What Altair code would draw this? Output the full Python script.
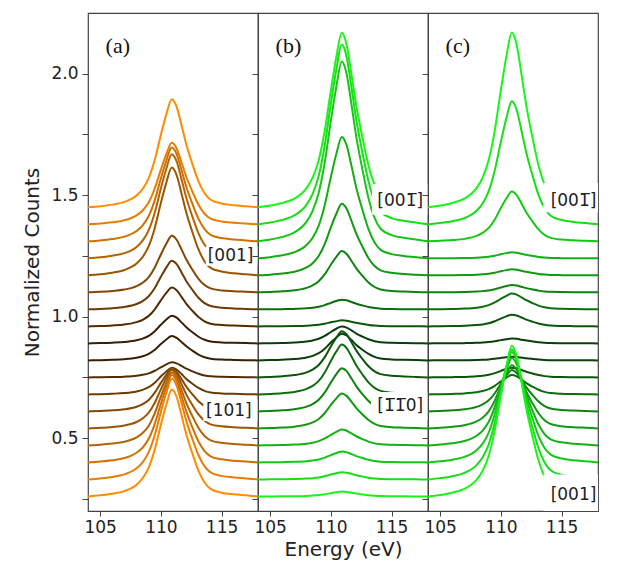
import altair as alt
import pandas as pd

# ---- data ----
energies = [104.0, 105.0, 106.0, 107.0, 108.0, 108.5, 109.0, 109.5, 110.0, 110.45,
            110.9, 111.3, 111.7, 112.1, 112.6, 113.1, 113.6, 114.1, 115.0, 116.0, 117.0, 118.0]
lineshape = [0.0, 0.01, 0.025, 0.05, 0.11, 0.17, 0.27, 0.44, 0.67, 0.86,
             1.0, 0.93, 0.76, 0.58, 0.40, 0.24, 0.13, 0.07, 0.035, 0.02, 0.01, 0.0]
offsets = [1.45, 1.38, 1.31, 1.24, 1.17, 1.10, 1.03, 0.96, 0.89,
           0.82, 0.75, 0.68, 0.61, 0.54, 0.47, 0.40, 0.33, 0.26]
amps_a = [0.445, 0.336, 0.386, 0.429, 0.444, 0.233, 0.20, 0.16, 0.114,
          0.10, 0.062, 0.11, 0.175, 0.24, 0.30, 0.36, 0.415, 0.44]
amps_b = [0.719, 0.74, 0.74, 0.50, 0.295, 0.17, 0.04, 0.025, 0.07,
          0.11, 0.19, 0.205, 0.178, 0.144, 0.065, 0.045, 0.03, 0.02]
amps_c = [0.72, 0.507, 0.205, 0.025, 0.025, 0.03, 0.065, 0.048, 0.02,
          0.015, 0.04, 0.08, 0.17, 0.26, 0.36, 0.455, 0.535, 0.62]

panel_letters = ["(a)", "(b)", "(c)"]
ann_a = {"text": ["[001]", "[101]"], "x": [113.86, 113.72], "y": [1.25, 0.611]}
ann_b = {"text": ["[00\u0031\u0305]", "[\u0031\u0305\u0031\u0305\u0030]"], "x": [113.83, 113.83], "y": [1.477, 0.634]}
ann_c = {"text": ["[00\u0031\u0305]", "[001]"], "x": [114.1, 114.1], "y": [1.477, 0.264]}
box_a = {"x1": [113.7, 113.5], "y1": [1.21, 0.57], "y2": [1.29, 0.66]}
box_b = {"x1": [113.4, 113.3], "y1": [1.42, 0.575], "y2": [1.545, 0.69]}
box_c = {"x1": [113.5, 113.5], "y1": [1.43, 0.2], "y2": [1.55, 0.35]}


def ramp(bright, dark, n=18, mid=8.5):
    out = []
    for i in range(n):
        d = abs(i - mid) / mid
        rgb = [int(round(dk + (br - dk) * d)) for br, dk in zip(bright, dark)]
        out.append("#%02x%02x%02x" % tuple(rgb))
    return out


colors_a = ramp((255, 140, 0), (45, 25, 5))
colors_g = ramp((25, 245, 25), (8, 52, 8))

XS = alt.Scale(domain=[104, 118], nice=False, zero=False)
YS = alt.Scale(domain=[0.2, 2.25], nice=False, zero=False)
FONT = "DejaVu Sans"
TXT = "#222222"
yvals = [0.25, 0.5, 0.75, 1.0, 1.25, 1.5, 1.75, 2.0]


def panel(idx, amps, colors, ann, box, first, xtitle):
    rows = []
    for c in range(len(offsets)):
        for e, s in zip(energies, lineshape):
            rows.append({"curve": "c%02d" % c, "energy": e, "counts": offsets[c] + amps[c] * s})
    df = pd.DataFrame(rows)
    names = ["c%02d" % c for c in range(len(offsets))]

    xaxis_kw = dict(values=[105, 110, 115], labelFontSize=17, labelFont=FONT, labelColor=TXT,
                    tickSize=5, tickColor="#444", labelPadding=3, domain=False, grid=False,
                    titleFontSize=20, titleFont=FONT, titleFontWeight="normal", titleColor=TXT,
                    titlePadding=4)
    if xtitle:
        xaxis = alt.Axis(title=xtitle, **xaxis_kw)
    else:
        xaxis = alt.Axis(title=None, **xaxis_kw)
    yaxis_kw = dict(values=yvals, tickSize=6, tickColor="#444", domain=False, grid=False)
    if first:
        yaxis = alt.Axis(title="Normalized Counts", labelFontSize=17, labelFont=FONT, labelColor=TXT,
                         labelExpr="datum.value % 0.5 == 0 ? format(datum.value, '.1f') : ''",
                         labelPadding=4, titleFontSize=20, titleFont=FONT, titleFontWeight="normal",
                         titleColor=TXT, titlePadding=8, **yaxis_kw)
    else:
        yaxis = alt.Axis(title=None, labels=False, **yaxis_kw)

    lines = alt.Chart(df).mark_line(strokeWidth=2, interpolate="monotone", clip=True).encode(
        x=alt.X("energy:Q", scale=XS, axis=xaxis),
        y=alt.Y("counts:Q", scale=YS, axis=yaxis),
        color=alt.Color("curve:N", scale=alt.Scale(domain=names, range=colors), legend=None),
    )
    bdf = pd.DataFrame({"x1": box["x1"], "x2": [118.0] * len(box["x1"]), "y1": box["y1"], "y2": box["y2"]})
    boxes = alt.Chart(bdf).mark_rect(color="white", clip=True).encode(
        x=alt.X("x1:Q", scale=XS, axis=xaxis), x2="x2:Q",
        y=alt.Y("y1:Q", scale=YS, axis=yaxis), y2="y2:Q")
    adf = pd.DataFrame(ann)
    texts = alt.Chart(adf).mark_text(align="left", baseline="middle", font=FONT, fontSize=17,
                                     color=TXT).encode(
        x=alt.X("x:Q", scale=XS, axis=xaxis), y=alt.Y("y:Q", scale=YS, axis=yaxis), text="text:N")
    ldf = pd.DataFrame({"t": [panel_letters[idx]], "x": [105.45], "y": [2.114]})
    letter = alt.Chart(ldf).mark_text(align="left", baseline="middle", font="Liberation Serif",
                                      fontSize=22, color="#111").encode(
        x=alt.X("x:Q", scale=XS, axis=xaxis), y=alt.Y("y:Q", scale=YS, axis=yaxis), text="t:N")
    return alt.layer(lines, boxes, texts, letter).properties(width=170, height=498)


pa = panel(0, amps_a, colors_a, ann_a, box_a, True, None)
pb = panel(1, amps_b, colors_g, ann_b, box_b, False, "Energy (eV)")
pc = panel(2, amps_c, colors_g, ann_c, box_c, False, None)

chart = alt.hconcat(pa, pb, pc, spacing=0, bounds="flush").resolve_scale(
    color="independent", x="independent", y="independent"
).resolve_axis(x="independent", y="independent").properties(
    padding={"left": 14, "top": 4, "right": 5, "bottom": 5}
).configure_view(stroke="#444444", strokeWidth=1.2)

chart.save("out.html", embed_options={"renderer": "svg", "actions": False})
